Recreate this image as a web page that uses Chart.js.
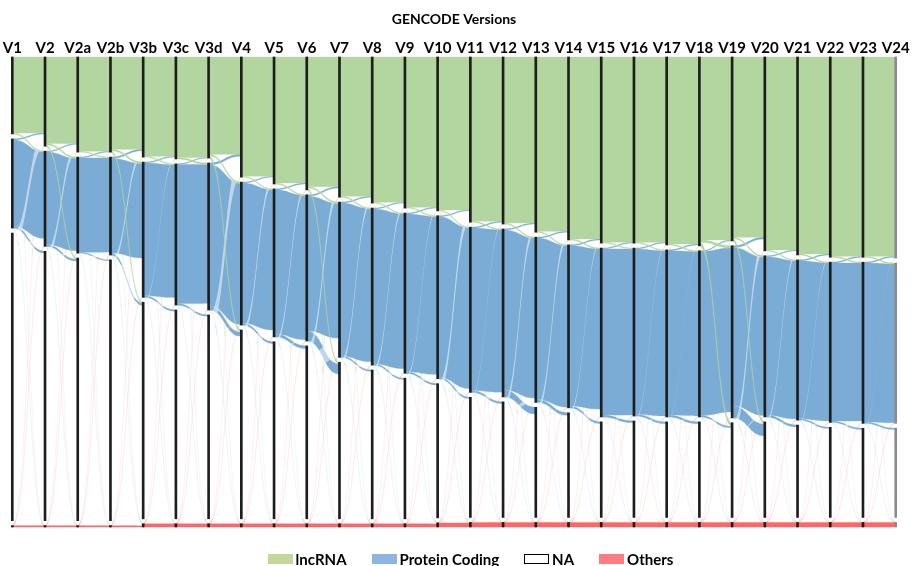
<!DOCTYPE html>
<html>
<head>
<meta charset="utf-8">
<script src="https://cdn.jsdelivr.net/npm/chart.js@4.4.0/dist/chart.umd.min.js"></script>
<style>
html,body{margin:0;padding:0;background:#fff;overflow:hidden}
#wrap{position:relative;width:917px;height:566px}
#legend{position:absolute;left:12px;width:917px;top:550px;height:18px;display:flex;justify-content:center;align-items:center;gap:25px}
.item{display:flex;align-items:center}
.bx{width:25px;height:10px;box-sizing:border-box;margin-right:3px}
.tx{font-family:Lato,'Open Sans',sans-serif;font-weight:700;font-size:15px;line-height:18px;color:#000;white-space:nowrap}
</style>
</head>
<body>
<div id="wrap"><canvas id="c"></canvas><div id="legend"></div></div>
<script>
// ---- data (share of all tracked genes, %) ----
const versions = ['V1','V2','V2a','V2b','V3b','V3c','V3d','V4','V5','V6','V7','V8','V9','V10','V11','V12','V13','V14','V15','V16','V17','V18','V19','V20','V21','V22','V23','V24'];
const categories = ['lncRNA','Protein Coding','NA','Others'];
const lncRNA        = [16.9,19.6,20.9,20.9,22.0,22.4,22.2,26.4,27.9,29.2,30.8,32.1,33.2,33.8,36.3,36.7,38.5,40.2,40.9,40.9,41.3,41.5,40.4,42.6,43.5,44.0,44.0,44.2];
const proteinCoding = [19.6,20.9,21.1,21.5,29.7,31.0,32.3,31.4,32.5,32.1,34.1,34.5,35.2,35.8,36.3,36.9,36.3,35.8,37.1,36.9,36.7,36.5,37.8,35.4,35.2,35.2,35.4,35.2];
const notAnnotated  = [63.2,59.2,57.7,57.3,47.6,45.9,44.8,41.5,38.9,38.0,34.4,32.7,30.9,29.5,26.4,25.4,24.2,23.0,21.0,21.2,21.0,21.0,20.8,21.0,20.3,19.8,19.6,19.6];
const others        = [0.3,0.3,0.3,0.3,0.7,0.7,0.7,0.7,0.7,0.7,0.7,0.7,0.7,0.9,1.0,1.0,1.0,1.0,1.0,1.0,1.0,1.0,1.0,1.0,1.0,1.0,1.0,1.0];
// transitions between consecutive versions (%), index k = versions[k] -> versions[k+1]
const lncToPc = [0.2,0.3,0.2,0.3,0.2,0.3,0.3,0.2,0.2,0.3,0.2,0.2,0.2,0.2,0.2,0.2,0.2,0.2,0.2,0.2,0.2,0.5,0.3,0.2,0.2,0.2,0.2];
const lncToNa = [0,0.3,0,0.3,0,0,0.5,0,0,0.4,0,0,0,0,0,0,0,0,0,0,0,0.8,0.5,0,0,0,0];
const pcToLnc = [0.2,0.2,0.2,0.3,0.2,0.1,0.4,0.2,0.2,0.3,0.2,0.2,0.2,0.2,0.2,0.2,0.2,0.2,0.2,0.2,0.2,0.2,0.4,0.2,0.2,0.2,0.2];
const pcToNa  = [0.4,0.4,0.2,0.4,0.3,0.3,0.9,0.4,0.6,2.2,0.3,0.3,0.3,0.3,0.4,1.5,0.6,0.4,0.4,0.4,0.4,0.3,2.6,0.4,0.3,0.3,0.3];
const minorLinks = [0.1,0.1,0.1,0.1,0.1,0.1,0.1,0.1,0.1,0.1,0.1,0.1,0.1,0.1,0.1,0.1,0.1,0.1,0.1,0.1,0.1,0.1,0.1,0.1,0.1,0.1,0.1];

// ---- styles ----
const PAD = 1.1;
const YMAX = 100 + 3 * PAD;
const flowColors = ['#B3D59F', '#7AACD5', 'rgba(255,255,255,0.5)', '#FF6666'];
const legendColors = ['#C4D79B', '#8DB4E2', '#FFFFFF', '#FF7C80'];
const series = [lncRNA, proteinCoding, notAnnotated, others];

function nodeSpans(i) { // offsets from top (in % units)
  let o = 0;
  return series.map(s => { const a = o; o += s[i]; const b = o; o += PAD; return [a, b]; });
}
function flowMatrix(k) {
  const F = [[0,0,0,0],[0,0,0,0],[0,0,0,0],[0,0,0,0]];
  const G0 = lncRNA[k], P0 = proteinCoding[k], N0 = notAnnotated[k], O0 = others[k];
  const G1 = lncRNA[k+1], P1 = proteinCoding[k+1], O1 = others[k+1];
  F[0][1] = lncToPc[k]; F[0][2] = lncToNa[k];
  F[1][0] = pcToLnc[k]; F[1][2] = pcToNa[k];
  F[0][0] = Math.max(0, G0 - F[0][1] - F[0][2]);
  F[1][1] = Math.max(0, P0 - F[1][0] - F[1][2]);
  F[3][3] = Math.min(O0, O1);
  F[3][2] = Math.max(0, O0 - O1);
  F[2][3] = Math.max(0, O1 - O0);
  F[2][0] = Math.max(0, G1 - F[0][0] - F[1][0]);
  F[2][1] = Math.max(0, P1 - F[1][1] - F[0][1]);
  F[2][2] = Math.max(0, N0 - F[2][0] - F[2][1] - F[2][3]);
  return F;
}
function ribbonPath(ctx, x0, x1, a0, b0, a1, b1) {
  const xm = (x0 + x1) / 2;
  ctx.beginPath();
  ctx.moveTo(x0, a0);
  ctx.bezierCurveTo(xm, a0, xm, a1, x1, a1);
  ctx.lineTo(x1, b1);
  ctx.bezierCurveTo(xm, b1, xm, b0, x0, b0);
  ctx.closePath();
}

const alluvial = {
  id: 'alluvial',
  beforeDatasetsDraw(chart) {
    const ctx = chart.ctx, xs = chart.scales.x, ys = chart.scales.y;
    const py = o => ys.getPixelForValue(YMAX - o);
    ctx.save();
    for (let k = 0; k < versions.length - 1; k++) {
      const x0 = xs.getPixelForValue(k), x1 = xs.getPixelForValue(k + 1);
      const A = nodeSpans(k), B = nodeSpans(k + 1);
      const F = flowMatrix(k);
      const outOff = A.map(s => s[0]), inOff = B.map(s => s[0]);
      const pos = {};
      for (let s = 0; s < 4; s++) for (let t = 0; t < 4; t++) {
        const v = F[s][t]; if (v <= 0) continue;
        pos[s + '_' + t] = {a0: outOff[s], b0: outOff[s] + v};
        outOff[s] += v;
      }
      for (let t = 0; t < 4; t++) for (let s = 0; s < 4; s++) {
        const v = F[s][t]; if (v <= 0) continue;
        const p = pos[s + '_' + t]; p.a1 = inOff[t]; p.b1 = inOff[t] + v;
        inOff[t] += v;
      }
      // faint minor links through the NA area (drawn beneath the main flows)
      const m = minorLinks[k];
      const links = [
        [A[3][0], B[1][1] - m, 'rgba(255,110,110,0.28)'],
        [A[3][0], B[0][1] - m, 'rgba(255,110,110,0.22)'],
        [A[1][1] - m, B[3][0], 'rgba(130,175,215,0.28)'],
        [A[0][1] - m, B[3][0], 'rgba(160,200,140,0.25)']
      ];
      for (const [o0, o1, col] of links) {
        ribbonPath(ctx, x0, x1, py(o0), py(o0 + m), py(o1), py(o1 + m));
        ctx.fillStyle = col; ctx.fill();
        ctx.strokeStyle = col; ctx.lineWidth = 0.5; ctx.stroke();
      }
      for (const s of [3, 1, 2, 0]) {
        for (let t = 0; t < 4; t++) {
          const p = pos[s + '_' + t]; if (!p) continue;
          ribbonPath(ctx, x0, x1, py(p.a0), py(p.b0), py(p.a1), py(p.b1));
          ctx.fillStyle = flowColors[s];
          ctx.fill();
          if (s !== 2) { ctx.strokeStyle = flowColors[s]; ctx.lineWidth = 0.4; ctx.stroke(); }
        }
      }
      // faint pink links crossing the protein coding band
      ribbonPath(ctx, x0, x1, py(A[3][0]), py(A[3][0] + m), py(B[1][1] - m), py(B[1][1]));
      ctx.fillStyle = 'rgba(230,120,140,0.18)'; ctx.fill();
    }
    ctx.restore();
  }
};

const nodeColor = versions.map((v, i) => i === versions.length - 1 ? '#8c8c8c' : '#1e1e1e');
const datasets = categories.map((name, c) => ({
  label: name,
  data: versions.map((v, i) => { const [a, b] = nodeSpans(i)[c]; return [YMAX - b, YMAX - a]; }),
  backgroundColor: nodeColor,
  borderWidth: 0,
  barThickness: 2,
  grouped: false,
  clip: false
}));

Chart.defaults.font.family = 'Lato, "Open Sans", sans-serif';
new Chart(document.getElementById('c'), {
  type: 'bar',
  data: { labels: versions, datasets },
  options: {
    responsive: true,
    maintainAspectRatio: false,
    animation: false,
    events: [],
    layout: { padding: { left: 12.3, right: 21.3, top: 0, bottom: 39 } },
    plugins: {
      legend: { display: false },
      tooltip: { enabled: false },
      title: {
        display: true, text: 'GENCODE Versions', color: '#000',
        font: { size: 14, weight: 'bold' },
        padding: { top: 11, bottom: 11.2 }
      }
    },
    scales: {
      x: {
        type: 'category', position: 'top', offset: false,
        grid: { display: false, drawTicks: false },
        border: { display: false },
        ticks: { color: '#000', font: { size: 15, weight: 'bold' }, padding: 0, autoSkip: false, maxRotation: 0, minRotation: 0 }
      },
      y: { display: false, min: 0, max: YMAX }
    }
  },
  plugins: [alluvial]
});

// legend (HTML)
const lg = document.getElementById('legend');
categories.forEach((name, c) => {
  const it = document.createElement('div'); it.className = 'item';
  const bx = document.createElement('div'); bx.className = 'bx';
  bx.style.background = legendColors[c];
  if (c === 2) bx.style.border = '1px solid #000';
  const tx = document.createElement('span'); tx.className = 'tx'; tx.textContent = name;
  it.appendChild(bx); it.appendChild(tx); lg.appendChild(it);
});
</script>
</body>
</html>
